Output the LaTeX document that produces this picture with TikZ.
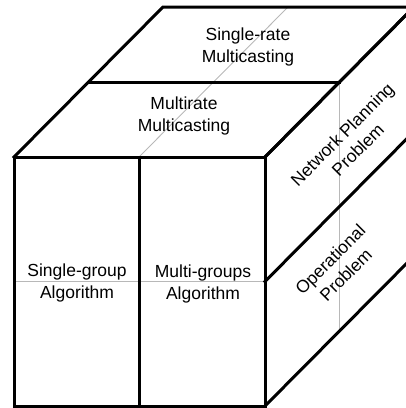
\documentclass[tikz,border=0pt]{standalone}
\usepackage{fontspec}
\setmainfont{Liberation Sans}
\begin{document}
\begin{tikzpicture}[x=1pt,y=-1pt,
  edge/.style={line width=3pt,line join=miter,line cap=rect},
  guide/.style={line width=0.9pt,color=black!28},
  label/.style={align=center,inner sep=0pt,font=\fontsize{17.5}{22}\selectfont}]
\useasboundingbox (0,0) rectangle (406,408);
\clip (0,0) rectangle (406,408);
% front face corners and divider
\coordinate (A) at (14,157);
\coordinate (B) at (265,157);
\coordinate (C) at (265,406);
\coordinate (D) at (14,406);
\coordinate (M1) at (139,157);
\coordinate (M2) at (139,406);
% back corners (depth vector (149,-150))
\coordinate (Ab) at (163,7);
\coordinate (Bb) at (414,7);
\coordinate (Cb) at (414,256);
% half-depth points
\coordinate (Ah) at (88.5,82);
\coordinate (Bh) at (339.5,82);
\coordinate (Ch) at (339.5,331);
\coordinate (Fl) at (14,281.5);
\coordinate (Fr) at (265,281.5);
\coordinate (Rb) at (414,131.5);
\coordinate (Mb) at (288,7);
% thin guide lines
\draw[guide] (M1) -- (Mb);
\draw[guide] (Fl) -- (Fr);
\draw[guide] (Bh) -- (Ch);
% top face
\draw[edge] (A) -- (Ab) -- (Bb) -- (B);
\draw[edge] (Ah) -- (Bh);
% right face
\draw[edge] (B) -- (Bb);
\draw[edge] (Fr) -- (Rb);
\draw[edge] (C) -- (Cb);
% front face
\draw[edge] (A) -- (B) -- (C) -- (D) -- cycle;
\draw[edge] (M1) -- (M2);
% labels
\node[label] (srm) at (248,47) {Single-rate\\Multicasting};
\node[label] (mrm) at (184,116) {Multirate\\Multicasting};
\node[label] (sga) at (77,283) {Single-group\\Algorithm};
\node[label] (mga) at (203,284) {Multi-groups\\Algorithm};
\node[label,rotate=45] (npp) at (350,142) {Network Planning\\Problem};
\node[label,rotate=45] (opp) at (338,267) {Operational\\Problem};
\end{tikzpicture}
\end{document}
